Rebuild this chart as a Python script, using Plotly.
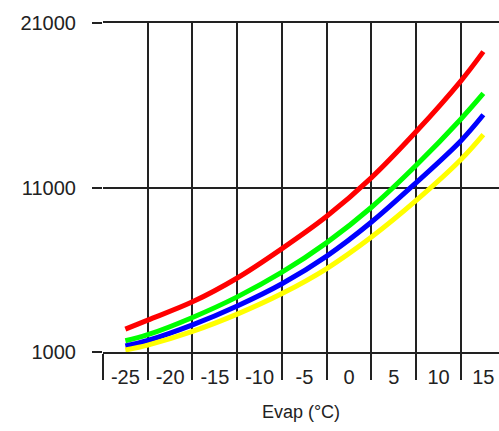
import plotly.graph_objects as go

evap = [-25, -22.5, -17.5, -12.5, -7.5, -2.5, 2.5, 7.5, 12.5, 15]
red = [2394, 2939, 4048, 5500, 7285, 9250, 11600, 14400, 17485, 19261]
green = [1685, 2050, 3100, 4350, 5850, 7650, 9800, 12350, 15164, 16715]
blue = [1364, 1700, 2650, 3800, 5150, 6830, 8900, 11300, 13848, 15424]
yellow = [1121, 1420, 2250, 3300, 4550, 6073, 7988, 10212, 12700, 14212]

x_labels = [-25, -20, -15, -10, -5, 0, 5, 10, 15]
x_bounds = [-27.5, -22.5, -17.5, -12.5, -7.5, -2.5, 2.5, 7.5, 12.5]
y_ticks = [1000, 11000, 21000]

xrange = [-27.5, 16.75]

fig = go.Figure()
for vals, col in [(red, "#ff0000"), (green, "#00ff00"), (blue, "#0000ff"), (yellow, "#ffff00")]:
    fig.add_trace(go.Scatter(x=evap, y=vals, mode="lines",
                             line=dict(color=col, width=5, shape="spline", smoothing=1.0),
                             showlegend=False, hoverinfo="skip"))

# invisible trace for secondary x axis labels
fig.add_trace(go.Scatter(x=[0], y=[None], xaxis="x2", showlegend=False, hoverinfo="skip"))

font = dict(family="Liberation Sans, Arial, sans-serif", size=20, color="#222")

fig.update_layout(
    width=499, height=431,
    margin=dict(l=103, r=0, t=23, b=79, autoexpand=False),
    paper_bgcolor="white", plot_bgcolor="white",
    font=font,
    xaxis=dict(range=xrange, tickvals=x_bounds, showticklabels=False,
               ticks="outside", ticklen=26, tickwidth=2, tickcolor="#222",
               showgrid=True, gridcolor="#222", gridwidth=2, zeroline=False,
               showline=True, linecolor="#222", linewidth=2, mirror=True),
    xaxis2=dict(range=xrange, overlaying="x", side="bottom", tickvals=x_labels,
                ticktext=[str(v) for v in x_labels], ticks="outside", ticklen=7,
                tickcolor="rgba(0,0,0,0)", showgrid=False, zeroline=False,
                showline=False, tickfont=dict(size=20, color="#222"),
                title=dict(text="Evap (°C)", font=dict(size=18, color="#222"), standoff=18)),
    yaxis=dict(range=[1000, 21000], tickvals=y_ticks, ticktext=[str(v) for v in y_ticks],
               ticks="outside", ticklen=10, tickwidth=2, tickcolor="#222",
               showgrid=True, gridcolor="#222", gridwidth=2, zeroline=False,
               showline=False, ticklabelstandoff=12,
               tickfont=dict(size=20, color="#222")),
)

fig.write_html("out.html", config={"displayModeBar": False},
               post_script="document.body.style.margin='0';document.body.style.overflow='hidden';")
